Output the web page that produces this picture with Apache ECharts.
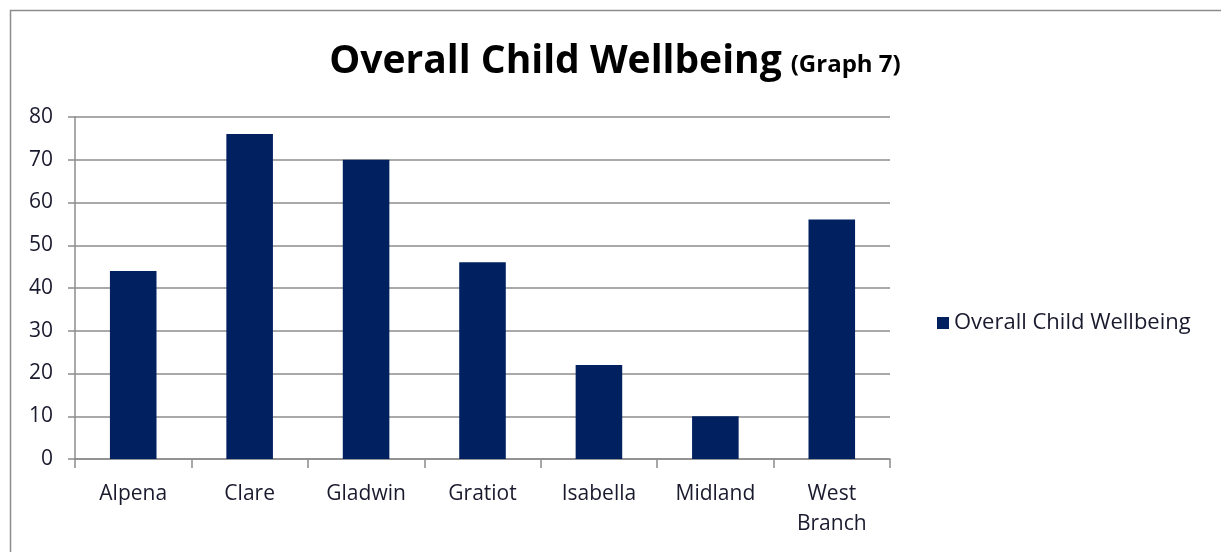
<!DOCTYPE html>
<html>
<head>
<meta charset="utf-8">
<script src="https://cdn.jsdelivr.net/npm/echarts@6/dist/echarts.min.js"></script>
<style>html,body{margin:0;padding:0;background:#fff}#c{width:1221px;height:552px}</style>
</head>
<body>
<div id="c"></div>
<script>
const categories = ['Alpena', 'Clare', 'Gladwin', 'Gratiot', 'Isabella', 'Midland', 'West\nBranch'];
const wellbeing = [44, 76, 70, 46, 22, 10, 56];
const seriesName = 'Overall Child Wellbeing';
const yTicks = { min: 0, max: 80, interval: 10 };

const FONT = 'Open Sans';
const chart = echarts.init(document.getElementById('c'));
chart.setOption({
  animation: false,
  backgroundColor: '#fff',
  graphic: [{
    type: 'rect', left: 8, top: 8,
    shape: { width: 1300, height: 700 },
    style: { fill: 'none', stroke: '#8c8c8c', lineWidth: 1.5 }, silent: true
  }],
  title: {
    text: '{a|Overall Child Wellbeing} {b|(Graph 7)}',
    left: 610, top: 37, textAlign: 'center',
    textStyle: {
      rich: {
        a: { fontFamily: FONT, fontWeight: 'bold', fontSize: 39, color: '#000' },
        b: { fontFamily: FONT, fontWeight: 'bold', fontSize: 24, color: '#000', padding: [7, 0, 0, 4] }
      }
    }
  },
  legend: {
    orient: 'vertical', left: 932, top: 307,
    itemWidth: 12, itemHeight: 12, itemGap: 6,
    icon: 'rect',
    textStyle: { fontFamily: FONT, fontSize: 22, color: '#1a1a2e' },
    data: [seriesName]
  },
  grid: { left: 75, right: 331, top: 117, bottom: 93, containLabel: false },
  xAxis: {
    type: 'category', data: categories,
    axisLine: { lineStyle: { color: '#8c8c8c', width: 1.5 } },
    axisTick: { show: true, length: 9, alignWithLabel: false, lineStyle: { color: '#8c8c8c', width: 1.5 } },
    axisLabel: { fontFamily: FONT, fontSize: 21, color: '#1a1a2e', margin: 20, lineHeight: 30, interval: 0 }
  },
  yAxis: {
    type: 'value', min: yTicks.min, max: yTicks.max, interval: yTicks.interval,
    axisLine: { show: true, lineStyle: { color: '#8c8c8c', width: 1.5 } },
    axisTick: { show: true, length: 7, inside: false, lineStyle: { color: '#8c8c8c', width: 1.5 } },
    splitLine: { lineStyle: { color: '#8c8c8c', width: 1.5 } },
    axisLabel: { fontFamily: FONT, fontSize: 21, color: '#1a1a2e', margin: 22 }
  },
  series: [{
    name: seriesName, type: 'bar', data: wellbeing,
    barWidth: '40%',
    itemStyle: { color: '#002060' }
  }]
});
</script>
</body>
</html>
